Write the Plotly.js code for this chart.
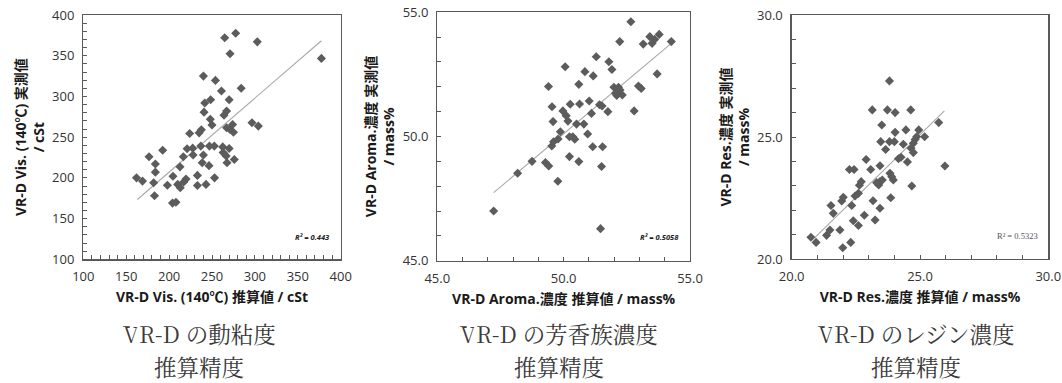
<!DOCTYPE html>
<html>
<head>
<meta charset="utf-8">
<script src="https://cdn.plot.ly/plotly-3.0.1.min.js"></script>
<style>
html,body{margin:0;padding:0;background:#fff;}
#chart{width:1062px;height:383px;}
</style>
</head>
<body>
<div id="chart"></div>
<script>
// ---- Panel 1: VR-D viscosity (140°C), cSt ----
const visEst = [162,169,176.6,184,184,182,183,192.5,198,204.5,204,208,210,212.7,213,216.6,217,219.7,221,224,227.5,228,233,233,235,237,237.6,240,238.6,240.7,240,241.6,243,246.5,247,248.4,248,250,252.7,253,254,261,262.5,263,264,267,266.5,267.5,267,270,271,270,271,264.8,277.6,274,275,276,284,296.6,304,302.8,377.5];
const visMeas = [200,196,226,217,207,194,178,234,191,202,169,170,192,213.5,188,226,195,198.5,235.7,254.5,236.5,228,203,190.6,255.3,239,259,228,218.5,280.7,325,292,192,215,239,296,272,265,239,200,319.7,306.6,238,231,277,282,227,218.5,261.5,296,259.5,236,352.5,372,377.5,265.6,256,222.5,310,267.6,263.6,367,346.7];
const visTrendX = [163, 377.5];
const visTrendY = [173.4, 368.4];
const visR2 = "R² = 0.443";

// ---- Panel 2: VR-D aromatics concentration, mass% ----
const aroEst = [47.23,48.18,48.75,49.28,49.41,49.40,49.54,49.58,49.53,49.6,49.77,49.78,49.87,49.97,50.06,50.1,50.17,50.23,50.26,50.23,50.36,50.44,50.51,50.6,50.6,50.63,50.8,50.84,50.95,51.01,51.1,51.15,51.17,51.29,51.42,51.52,51.5,51.54,51.46,51.75,51.79,51.91,51.99,52.05,52.17,52.1,52.32,52.23,52.22,52.66,52.79,52.96,53.07,53.15,53.41,53.5,53.6,53.78,53.7,54.26];
const aroMeas = [47.0,48.52,49.0,48.95,48.81,52.01,51.2,50.6,49.62,49.79,48.2,49.9,50.19,51.03,52.81,50.84,50.62,49.19,51.3,49.99,49.99,49.89,50.5,48.99,52.1,51.31,50.5,52.61,50.1,51.43,50.93,49.59,52.44,53.21,51.28,51.23,48.79,49.59,46.29,51.0,53.01,52.7,51.98,51.74,51.98,51.65,51.67,51.87,53.82,54.62,51.03,52.03,51.93,53.72,54.02,53.75,53.91,54.11,52.52,53.82];
const aroTrendX = [47.23, 54.26];
const aroTrendY = [47.74, 53.75];
const aroR2 = "R² = 0.5058";

// ---- Panel 3: VR-D resin concentration, mass% ----
const resEst = [20.75,20.95,21.36,21.49,21.53,21.62,21.88,21.95,22.01,21.99,22.25,22.3,22.34,22.4,22.43,22.47,22.6,22.6,22.64,22.71,22.83,22.9,23.08,23.14,23.17,23.25,23.31,23.39,23.44,23.44,23.44,23.47,23.51,23.53,23.66,23.73,23.81,23.81,23.83,23.86,23.9,23.96,24.0,24.03,24.03,24.16,24.26,24.35,24.45,24.51,24.64,24.65,24.68,24.74,24.81,24.74,24.87,24.95,25.18,25.73,25.97];
const resMeas = [20.89,20.68,20.97,21.19,22.19,21.87,21.19,22.38,22.53,20.46,23.67,20.68,22.19,21.57,23.67,22.58,22.69,21.37,23.02,23.17,21.79,24.08,23.67,26.11,22.39,21.6,23.13,23.03,23.82,23.17,22.08,24.81,25.49,23.24,24.49,26.11,27.3,24.81,23.51,22.51,23.37,23.24,24.81,26.0,25.19,24.11,24.17,24.7,25.29,23.98,26.11,24.54,22.99,24.36,24.9,24.74,25.01,25.29,25.01,25.59,23.81];
const resTrendX = [20.91, 25.95];
const resTrendY = [20.89, 26.07];
const resR2 = "R² = 0.5323";

// ---- Text ----
const xTitles = ["VR-D Vis. (140℃) 推算値 / cSt", "VR-D Aroma.濃度 推算値 / mass%", "VR-D Res.濃度 推算値 / mass%"];
const yTitles = ["VR-D Vis. (140℃) 実測値<br>/ cSt", "VR-D Aroma.濃度 実測値<br>/ mass%", "VR-D Res.濃度 実測値<br>/ mass%"];
const captionLine1 = ["VR-D の動粘度", "VR-D の芳香族濃度", "VR-D のレジン濃度"];
const captionLine2 = ["推算精度", "推算精度", "推算精度"];

const W = 1062, H = 383;
const SANS = "Open Sans, Noto Sans CJK JP, sans-serif";
const SERIF = "Noto Serif CJK JP, Liberation Serif, Noto Sans CJK JP, serif";
const AX = '#595959';
const MK = '#5c5c5c';

function pxX(p){ return p / W; }
function pxY(p){ return 1 - p / H; }

const panels = [
  {ex: visEst, me: visMeas, tx: visTrendX, ty: visTrendY, range:[100,400], dtick:50, minor:10, fmt:'d',
   box:[83.3,340.7,15,259.3], r2: visR2, r2pos:[312,236.7], r2style:'bi'},
  {ex: aroEst, me: aroMeas, tx: aroTrendX, ty: aroTrendY, range:[45,55], dtick:5, minor:1, fmt:'.1f',
   box:[437.3,690,12.3,260.7], r2: aroR2, r2pos:[659.5,236.7], r2style:'bi'},
  {ex: resEst, me: resMeas, tx: resTrendX, ty: resTrendY, range:[20,30], dtick:5, minor:1, fmt:'.1f',
   box:[791.7,1048.3,15,259], r2: resR2, r2pos:[1017,236], r2style:'r'}
];
const captionX = [199, 559, 916];
const CAP_SIZE = 22.5;

const data = [];
const layout = {
  width: W, height: H,
  margin: {l:0, r:0, t:0, b:0},
  paper_bgcolor: '#fff', plot_bgcolor: '#fff',
  showlegend: false,
  annotations: []
};

panels.forEach((p, i) => {
  const n = i === 0 ? '' : String(i + 1);
  const xa = 'x' + n, ya = 'y' + n;
  data.push({
    type: 'scatter', mode: 'lines', x: p.tx, y: p.ty, xaxis: xa, yaxis: ya,
    line: {color: '#a8a8a8', width: 1.1}, hoverinfo: 'skip'
  });
  data.push({
    type: 'scatter', mode: 'markers', x: p.ex, y: p.me, xaxis: xa, yaxis: ya,
    marker: {symbol: 'diamond', size: 7, color: MK, line: {width: 0}},
    cliponaxis: false
  });
  const common = {
    showline: true, mirror: true, linecolor: AX, linewidth: 1.3,
    ticks: 'inside', ticklen: 4, tickwidth: 1, tickcolor: AX,
    showgrid: false, zeroline: false, fixedrange: true,
    tickfont: {family: SANS, size: 13, color: '#333'},
    tickformat: p.fmt,
    minor: {dtick: p.minor, ticks: 'inside', ticklen: 4, tickwidth: 1, tickcolor: AX, showgrid: false}
  };
  layout['xaxis' + n] = Object.assign({}, common, {
    domain: [pxX(p.box[0]), pxX(p.box[1])], anchor: ya,
    range: p.range, tick0: p.range[0], dtick: p.dtick,
    ticklabelstandoff: 5,
    title: {text: xTitles[i], standoff: 8, font: {family: SANS, size: 14, color: '#1a1a1a', weight: 'bold'}}
  });
  layout['yaxis' + n] = Object.assign({}, common, {
    domain: [pxY(p.box[3]), pxY(p.box[2])], anchor: xa,
    range: p.range, tick0: p.range[0], dtick: p.dtick,
    ticklabelstandoff: 5,
    title: {text: yTitles[i], standoff: 4, font: {family: SANS, size: 14, color: '#1a1a1a', weight: 'bold'}}
  });
  const isBI = p.r2style === 'bi';
  layout.annotations.push({
    xref: 'paper', yref: 'paper', x: pxX(p.r2pos[0]), y: pxY(p.r2pos[1]),
    xanchor: 'center', yanchor: 'middle', showarrow: false,
    text: isBI ? '<b><i>' + p.r2 + '</i></b>' : p.r2,
    font: {family: isBI ? SANS : 'Liberation Serif, serif', size: isBI ? 7.5 : 8.5, color: isBI ? '#222' : '#555'}
  });
  layout.annotations.push({
    xref: 'paper', yref: 'paper', x: pxX(captionX[i]), y: pxY(332.8),
    xanchor: 'center', yanchor: 'middle', showarrow: false, borderpad: 0,
    text: captionLine1[i],
    font: {family: SERIF, size: CAP_SIZE, color: '#3a3a3a'}
  });
  layout.annotations.push({
    xref: 'paper', yref: 'paper', x: pxX(captionX[i]), y: pxY(366.3),
    xanchor: 'center', yanchor: 'middle', showarrow: false, borderpad: 0,
    text: captionLine2[i],
    font: {family: SERIF, size: CAP_SIZE, color: '#3a3a3a'}
  });
});

Plotly.newPlot('chart', data, layout, {displayModeBar: false, staticPlot: true});
</script>
</body>
</html>
